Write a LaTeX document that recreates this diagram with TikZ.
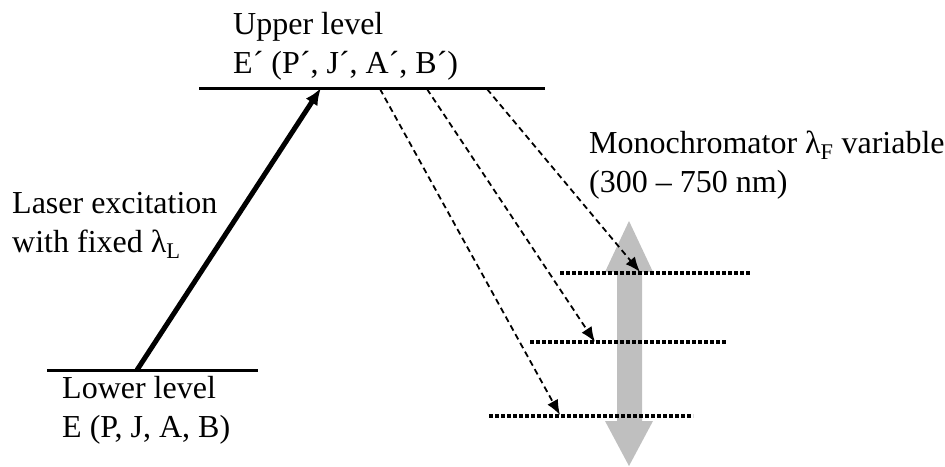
\documentclass[tikz,border=0pt]{standalone}
\usepackage{fontspec}
\setmainfont{Liberation Serif}
\usetikzlibrary{arrows.meta}

\begin{document}
\begin{tikzpicture}[x=1pt, y=-1pt,
      level/.style={line width=3pt},
      sublevel/.style={line width=3.5pt, dash pattern=on 3.5pt off 2.5pt},
      txt/.style={anchor=base west, align=left, inner sep=0pt,
                  font=\fontsize{32}{38.5}\selectfont},
      pump/.style={-{Latex[length=17pt, width=14pt]}, line width=5pt},
      decay/.style={-{Latex[length=15pt, width=12pt]}, line width=1.8pt,
                    dash pattern=on 6pt off 4pt},
      scan/.style={fill=gray!50, draw=none}]
    \useasboundingbox (0,0) rectangle (945,466);
    % levels
    \coordinate (up-l) at (199,88);   \coordinate (up-r) at (545,88);
    \coordinate (lo-l) at (47,370);   \coordinate (lo-r) at (258,370);
    \draw[level] (up-l) -- (up-r);
    \draw[level] (lo-l) -- (lo-r);
    \node[txt] (upper) at (233,73) {Upper level\\E´ (P´, J´, A´, B´)};
    \node[txt] (lower) at (62,437) {Lower level\\E (P, J, A, B)};
    \node[txt] (laser) at (12,252) {Laser excitation\\with fixed λ\textsubscript{L}};
    \node[txt] (mono) at (589,192) {Monochromator λ\textsubscript{F} variable\\(300 -- 750 nm)};
    % tuning range of the monochromator
    \fill[scan] (629,221) -- (653,272) -- (642,272) -- (642,421) -- (653,421)
      -- (629,466) -- (605,421) -- (617,421) -- (617,272) -- (605,272) -- cycle;
    % final states
    \coordinate (f1-l) at (489,416);  \coordinate (f1-r) at (693,416);
    \coordinate (f2-l) at (530,342);  \coordinate (f2-r) at (727,342);
    \coordinate (f3-l) at (560,273);  \coordinate (f3-r) at (750,273);
    \draw[sublevel] (f1-l) -- (f1-r);
    \draw[sublevel] (f2-l) -- (f2-r);
    \draw[sublevel] (f3-l) -- (f3-r);
    % transitions
    \coordinate (pa) at (137,370);  \coordinate (pb) at (321,88);
    \draw[pump] (pa) -- (pb);
    \coordinate (d1) at (380,89);  \coordinate (e1) at (560,415);
    \coordinate (d2) at (427,89);  \coordinate (e2) at (595,342);
    \coordinate (d3) at (487,89);  \coordinate (e3) at (640,272);
    \draw[decay] (d1) -- (e1);
    \draw[decay] (d2) -- (e2);
    \draw[decay] (d3) -- (e3);
\end{tikzpicture}
\end{document}
